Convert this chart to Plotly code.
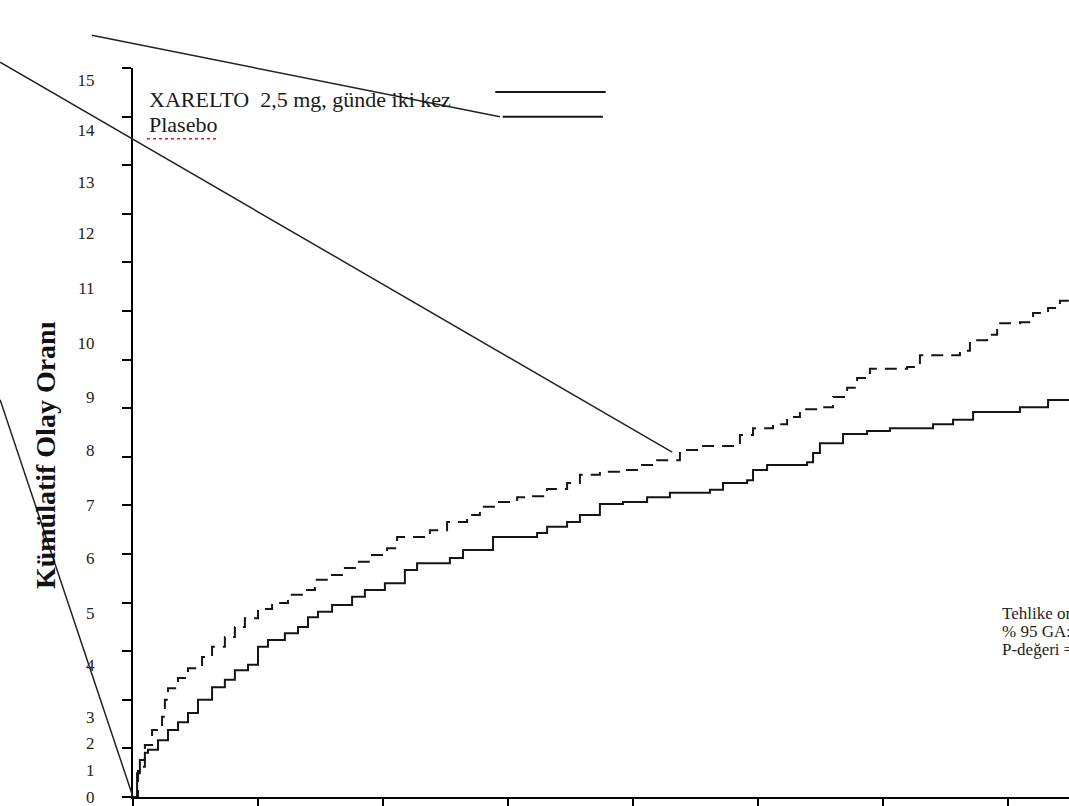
import plotly.graph_objects as go

# ---------------- data ----------------
# x: months since randomisation (tick every 4 months), y: cumulative event rate
xarelto_month = [0, 0.13, 0.22, 0.38, 0.48, 0.80, 1.12, 1.44, 1.76, 2.08, 2.53, 2.94, 3.26, 3.68,
                 4.00, 4.32, 4.86, 5.28, 5.60, 5.92, 6.37, 7.01, 7.42, 8.06, 8.70, 9.09, 10.14,
                 10.56, 11.52, 12.93, 13.25, 13.89, 14.30, 14.94, 15.68, 16.45, 17.18, 18.46,
                 18.88, 19.65, 19.84, 20.29, 21.57, 21.76, 21.98, 22.72, 23.49, 24.22, 25.60,
                 26.24, 26.88, 28.38, 29.28, 30.5]
xarelto_rate = [0, 0.49, 0.76, 0.91, 0.97, 1.17, 1.38, 1.54, 1.73, 2.00, 2.26, 2.41, 2.61, 2.72,
                3.09, 3.23, 3.37, 3.50, 3.70, 3.81, 3.95, 4.12, 4.26, 4.40, 4.67, 4.81, 4.92,
                5.08, 5.35, 5.43, 5.56, 5.66, 5.80, 6.03, 6.07, 6.17, 6.26, 6.32,
                6.46, 6.52, 6.73, 6.83, 6.89, 7.08, 7.28, 7.47, 7.53, 7.59, 7.67,
                7.76, 7.92, 8.02, 8.17, 8.21]

placebo_month = [0, 0.16, 0.38, 0.61, 0.93, 1.02, 1.12, 1.44, 1.76, 2.21, 2.53, 2.94, 3.26, 3.58,
                 4.00, 4.45, 4.96, 5.50, 5.82, 6.37, 6.78, 7.10, 7.58, 8.13, 8.45, 9.50, 10.05,
                 10.69, 11.10, 11.65, 12.29, 12.80, 13.25, 13.89, 14.30, 14.94, 15.58, 16.22,
                 16.77, 17.50, 18.05, 19.42, 19.84, 20.48, 20.93, 21.34, 21.98, 22.40, 22.85,
                 23.17, 23.58, 24.77, 25.18, 26.46, 26.78, 27.33, 27.65, 28.38, 28.80, 29.28,
                 29.66, 30.5]
placebo_rate = [0, 0.62, 1.07, 1.38, 1.65, 2.00, 2.24, 2.45, 2.65, 2.88, 3.09, 3.29, 3.50, 3.68,
                3.87, 3.99, 4.16, 4.26, 4.47, 4.57, 4.71, 4.84, 4.98, 5.12, 5.35, 5.49, 5.66,
                5.80, 5.97, 6.07, 6.17, 6.19, 6.34, 6.46, 6.63, 6.69, 6.73, 6.83,
                6.93, 7.14, 7.22, 7.45, 7.59, 7.67, 7.82, 7.98, 8.02, 8.23, 8.42,
                8.62, 8.81, 8.85, 9.09, 9.18, 9.40, 9.51, 9.75, 9.77, 9.96, 10.06,
                10.21, 10.23]

y_tick_values = list(range(0, 16))
y_label_text = [str(v) for v in range(0, 16)]
# where the (misaligned) tick labels sit on the tick scale in the picture
y_label_pos = [0.0, 0.56, 1.11, 1.65, 2.72, 3.79, 4.92, 6.01, 7.14, 8.23, 9.34, 10.47, 11.60,
               12.65, 13.72, 14.75]
x_tick_values = [0, 4, 8, 12, 16, 20, 24, 28]

legend_labels = ["XARELTO  2,5 mg, günde iki kez", "Plasebo"]
y_title = "Kümülatif Olay Oranı"
stats_lines = ["Tehlike oranı: 0,84", "% 95 GA: 0,72-0,97", "P-değeri = 0,020"]

SERIF = "Liberation Serif"
INK = "#151515"

fig = go.Figure()
fig.add_trace(go.Scatter(x=xarelto_month, y=xarelto_rate, mode="lines", line_shape="hv",
                         line=dict(color=INK, width=2), name=legend_labels[0], showlegend=False))
fig.add_trace(go.Scatter(x=placebo_month, y=placebo_rate, mode="lines", line_shape="hv",
                         line=dict(color=INK, width=2, dash="12px,8px"), name=legend_labels[1],
                         showlegend=False))
# invisible trace to carry the label axis
fig.add_trace(go.Scatter(x=[None], y=[None], yaxis="y2", showlegend=False, hoverinfo="skip"))

fig.update_layout(
    width=1069, height=806,
    margin=dict(l=133, r=0, t=68, b=9),
    paper_bgcolor="white", plot_bgcolor="white",
    xaxis=dict(range=[0, 29.95], tickvals=x_tick_values, ticks="outside", ticklen=9,
               tickwidth=1.5, tickcolor="#000", showticklabels=False, showline=True,
               linecolor="#000", linewidth=2, showgrid=False, zeroline=False, fixedrange=True),
    yaxis=dict(range=[0, 15], tickvals=y_tick_values, ticks="outside", ticklen=9,
               tickwidth=1.5, tickcolor="#000", showticklabels=False, showline=True,
               linecolor="#000", linewidth=2, showgrid=False, zeroline=False, fixedrange=True),
    yaxis2=dict(range=[0, 15], overlaying="y", side="left", anchor="x",
                tickvals=y_label_pos, ticktext=y_label_text, ticks="outside", ticklen=34,
                tickcolor="rgba(0,0,0,0)", showline=False, showgrid=False, zeroline=False,
                ticklabeloverflow="allow",
                tickfont=dict(family=SERIF, size=17, color="#222"), fixedrange=True),
)

# y axis title
fig.add_annotation(text=f"<b>{y_title}</b>", xref="paper", yref="paper", x=-0.094, y=0.469,
                   xanchor="center", yanchor="middle",
                   textangle=-90, showarrow=False, font=dict(family=SERIF, size=28, color="#111"))

# legend texts
fig.add_annotation(text=legend_labels[0], xref="paper", yref="paper", x=0.015, y=0.957,
                   xanchor="left", yanchor="middle", showarrow=False,
                   font=dict(family=SERIF, size=22, color="#1a1a1a"))
fig.add_annotation(text=legend_labels[1], xref="paper", yref="paper", x=0.015, y=0.922,
                   xanchor="left", yanchor="middle", showarrow=False,
                   font=dict(family=SERIF, size=22, color="#1a1a1a"))
# spell-check underline under "Plasebo"
fig.add_shape(type="line", xref="paper", yref="paper", x0=0.015, x1=0.090, y0=0.903, y1=0.903,
              line=dict(color="#d02020", width=1.5, dash="dot"))
# legend sample lines
fig.add_shape(type="line", xref="paper", yref="paper", x0=0.387, x1=0.505, y0=0.967, y1=0.967,
              line=dict(color=INK, width=2))
fig.add_shape(type="line", xref="paper", yref="paper", x0=0.395, x1=0.502, y0=0.933, y1=0.933,
              line=dict(color=INK, width=2))

# stray leader lines present in the picture
fig.add_shape(type="line", xref="paper", yref="paper", x0=-0.142, y0=1.008, x1=0.576, y1=0.473,
              line=dict(color="#222", width=1.5))
fig.add_shape(type="line", xref="paper", yref="paper", x0=-0.044, y0=1.045, x1=0.392, y1=0.933,
              line=dict(color="#222", width=1.5))
fig.add_shape(type="line", xref="paper", yref="paper", x0=-0.142, y0=0.545, x1=0.0, y1=0.0,
              line=dict(color="#222", width=1.5))

# statistics text (cut off at the right edge, as in the picture)
for i, line in enumerate(stats_lines):
    fig.add_annotation(text=line, xref="paper", yref="paper", x=0.926, y=0.252 - i * 0.025,
                       xanchor="left", yanchor="middle", showarrow=False,
                       font=dict(family=SERIF, size=17, color="#222"))

fig.write_html("out.html", config={"displayModeBar": False},
               post_script="document.body.style.margin='0';document.body.style.overflow='hidden';")
